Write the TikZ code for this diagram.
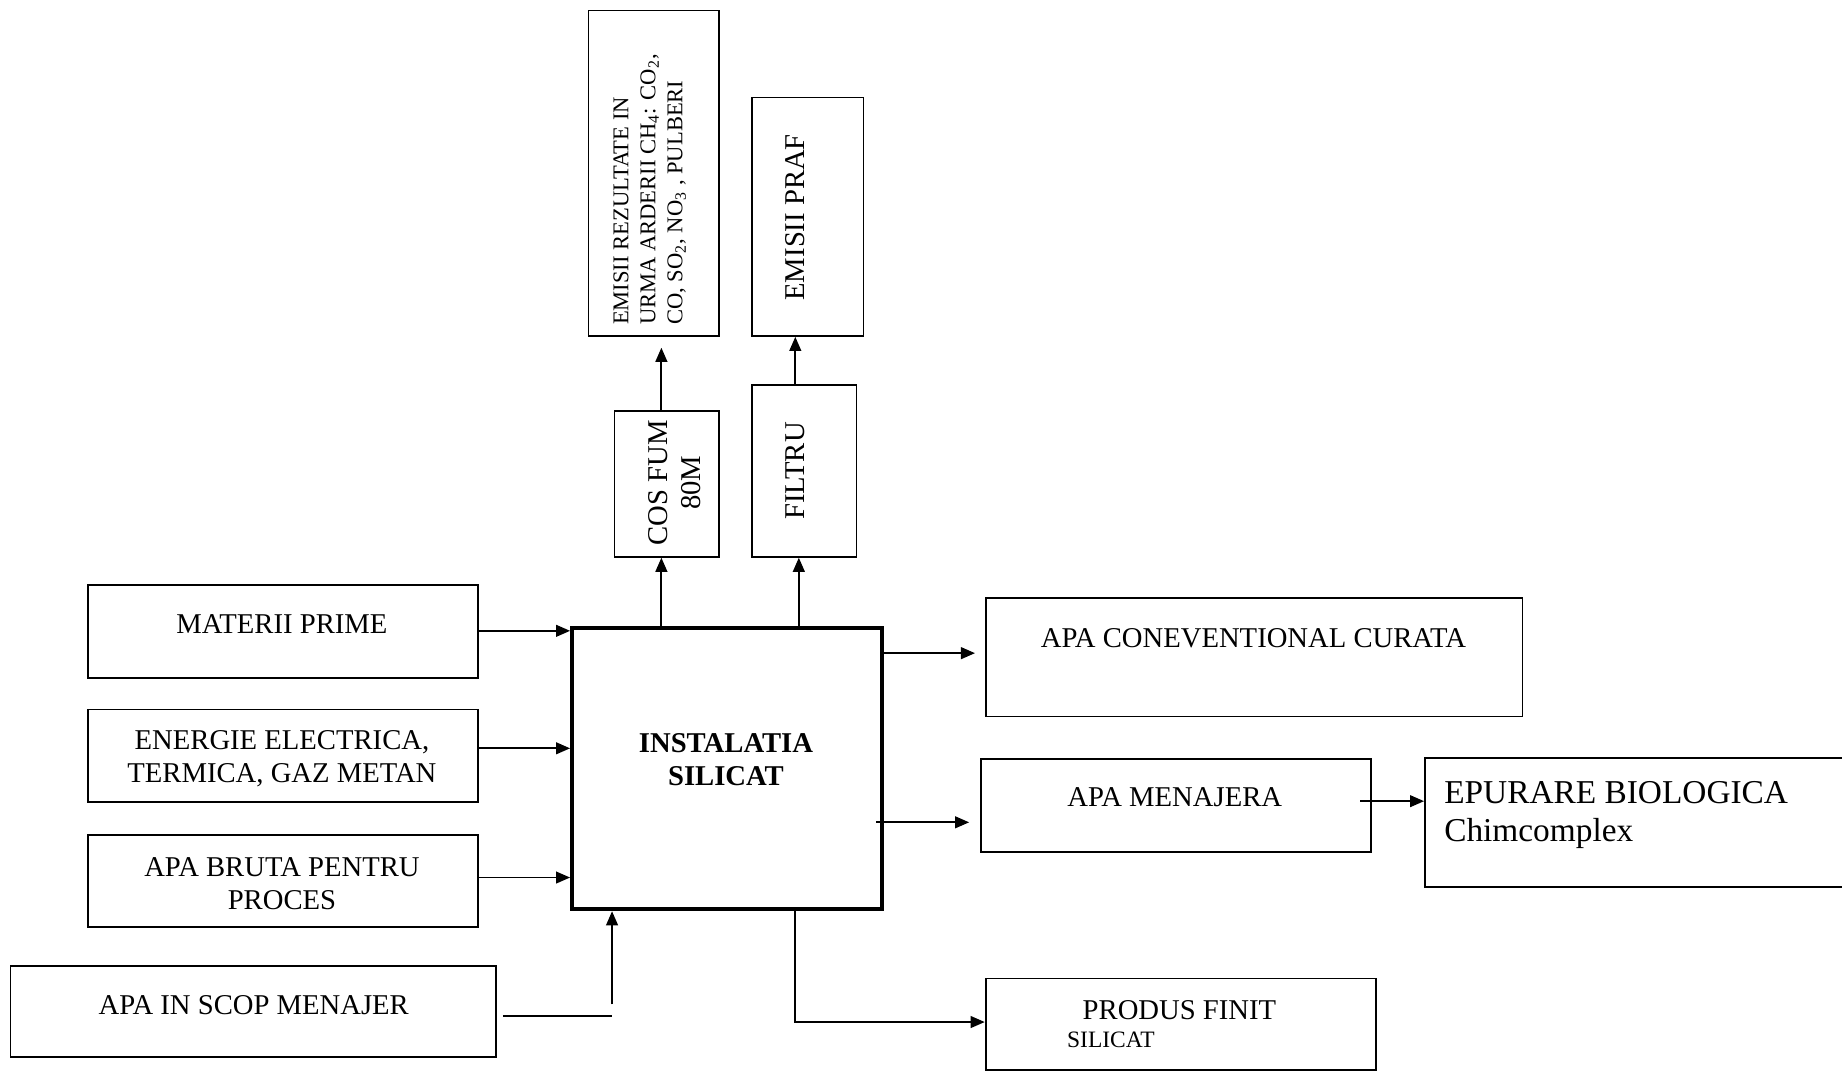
\documentclass[tikz,border=0pt]{standalone}
\usepackage{fontspec}
\setmainfont{Liberation Serif}
\usetikzlibrary{arrows.meta,fit}
\begin{document}
\begin{tikzpicture}[x=0.5pt,y=-0.5pt,
  box/.style={draw, line width=0.75pt, rectangle, inner sep=0pt},
  arr/.style={-{Triangle[length=6pt,width=5pt]}, line width=0.8pt},
  ln/.style={line width=0.8pt},
  txt/.style={inner sep=0pt, align=center, font=\fontsize{12.2}{14}\selectfont}]
\useasboundingbox (0,0) rectangle (1568,913);
% boxes
\node[box, fit={(501,9)(612,286)}] (emis) {};
\node[box, fit={(640,83)(735,286)}] (praf) {};
\node[box, fit={(523,350)(612,474)}] (cos) {};
\node[box, fit={(640,328)(729,474)}] (filtru) {};
\node[box, line width=1.7pt, fit={(487,535)(751,774)}] (main) {};
\node[box, fit={(75,498)(407,577)}] (mat) {};
\node[box, fit={(75,604)(407,683)}] (en) {};
\node[box, fit={(75,711)(407,789)}] (bruta) {};
\node[box, fit={(9,822)(422,900)}] (scop) {};
\node[box, fit={(839,509)(1296,610)}] (curata) {};
\node[box, fit={(835,646)(1167,725)}] (men) {};
\node[box, fit={(1213,645)(1585,755)}] (epur) {};
\node[box, fit={(839,833)(1171,911)}] (produs) {};
% texts
\node[txt, rotate=90, anchor=west, align=left, font=\fontsize{9.6}{11.5}\selectfont] (tEmis) at (553,277)
  {EMISII REZULTATE IN\\URMA ARDERII CH\textsubscript{4}: CO\textsubscript{2},\\CO, SO\textsubscript{2}, NO\textsubscript{3} , PULBERI};
\node[txt, rotate=90] (tPraf) at (677,185) {EMISII PRAF};
\node[txt, rotate=90] (tCos) at (574,411) {COS FUM\\80M};
\node[txt, rotate=90] (tFil) at (677,401) {FILTRU};
\node[txt, font=\bfseries\fontsize{12.2}{14}\selectfont] (tMain) at (618,647) {INSTALATIA\\SILICAT};
\node[txt] (tMat) at (240,531) {MATERII PRIME};
\node[txt] (tEn) at (240,646) {ENERGIE ELECTRICA,\\TERMICA, GAZ METAN};
\node[txt] (tBr) at (240,752) {APA BRUTA PENTRU\\PROCES};
\node[txt] (tScop) at (216,856) {APA IN SCOP MENAJER};
\node[txt] (tCur) at (1067,543) {APA CONEVENTIONAL CURATA};
\node[txt] (tMen) at (1000,679) {APA MENAJERA};
\node[txt, anchor=north west, align=left, font=\fontsize{14.2}{16}\selectfont] (tEp) at (1229,665) {EPURARE BIOLOGICA\\Chimcomplex};
\node[txt] (tProd) at (1004,860) {PRODUS FINIT};
\node[txt, anchor=west, font=\fontsize{10}{12}\selectfont] (tSil) at (908,885) {SILICAT};
% helper coordinates
\coordinate (yMat) at (0,537);
\coordinate (yEn) at (0,637);
\coordinate (yBr) at (0,747);
\coordinate (sA) at (428,865);
\coordinate (sB) at (521,865);
\coordinate (sC) at (521,855);
\coordinate (xCos) at (563,0);
\coordinate (xFil) at (680,0);
\coordinate (xPr) at (677,0);
\coordinate (eTip) at (563,296);
\coordinate (cTip) at (830,556);
\coordinate (mStart) at (746,700);
\coordinate (mTip) at (825,700);
\coordinate (epStart) at (1158,682);
\coordinate (xOut) at (677,0);
\coordinate (yOut) at (0,870);
% connectors
\draw[arr] (mat.east |- yMat) -- (main.west |- yMat);
\draw[arr] (en.east |- yEn) -- (main.west |- yEn);
\draw[arr] (bruta.east |- yBr) -- (main.west |- yBr);
\draw[ln] (sA) -- (sB);
\draw[arr] (sC) -- (sC |- main.south);
\draw[arr] (xCos |- main.north) -- (xCos |- cos.south);
\draw[arr] (xFil |- main.north) -- (xFil |- filtru.south);
\draw[arr] (xCos |- cos.north) -- (eTip);
\draw[arr] (xPr |- filtru.north) -- (xPr |- praf.south);
\draw[arr] (main.east |- cTip) -- (cTip);
\draw[arr] (mStart) -- (mTip);
\draw[arr] (epStart) -- (epur.west |- epStart);
\draw[arr] (xOut |- main.south) |- (produs.west |- yOut);
\end{tikzpicture}
\end{document}
